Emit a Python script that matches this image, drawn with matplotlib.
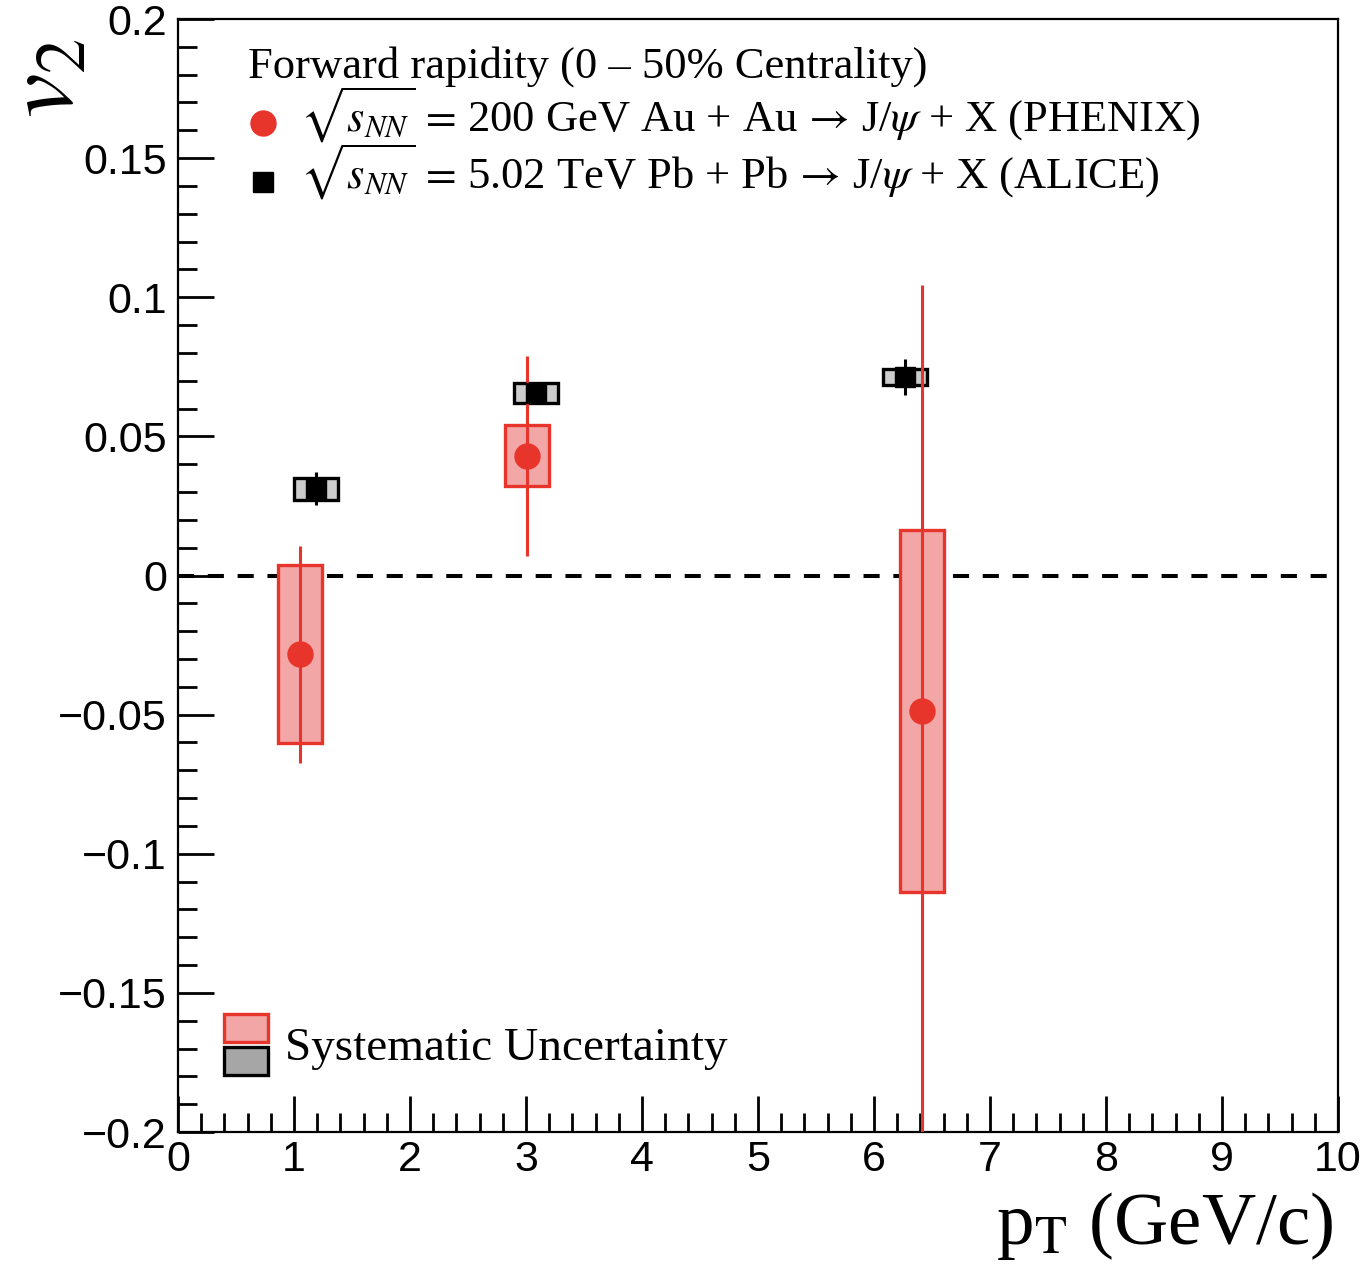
import numpy as np
import matplotlib
matplotlib.use('Agg')
import matplotlib.pyplot as plt
from matplotlib.patches import Rectangle
from matplotlib.lines import Line2D

plt.rcParams['mathtext.fontset'] = 'stix'
plt.rcParams['font.family'] = ['Liberation Sans', 'DejaVu Sans']

# PHENIX, 200 GeV Au+Au
pt_phenix = np.array([1.05, 3.01, 6.41])
v2_phenix = np.array([-0.0283, 0.043, -0.0486])
stat_phenix = np.array([0.039, 0.036, 0.153])
sys_phenix = np.array([0.032, 0.011, 0.065])

# ALICE, 5.02 TeV Pb+Pb
pt_alice = np.array([1.19, 3.09, 6.27])
v2_alice = np.array([0.0312, 0.0656, 0.0713])
stat_alice = np.array([0.006, 0.004, 0.0066])
sys_alice = np.array([0.004, 0.0037, 0.0028])

box_hw = 0.19
red = '#e8352b'
red_fill = '#f2a6a6'

fig = plt.figure(figsize=(13.61, 12.68), dpi=100)
ax = fig.add_axes([178/1361, 1-1132/1268, 1160/1361, 1113/1268])

ax.plot([0, 10], [0, 0], color='black', lw=2.9, dashes=(4, 3.4), zorder=1)

# systematic boxes
for x, y, s in zip(pt_phenix, v2_phenix, sys_phenix):
    ax.add_patch(Rectangle((x-box_hw, y-s), 2*box_hw, 2*s, facecolor=red_fill,
                           edgecolor=red, lw=2.4, zorder=2))
for x, y, s in zip(pt_alice, v2_alice, sys_alice):
    ax.add_patch(Rectangle((x-box_hw, y-s), 2*box_hw, 2*s, facecolor='#cccccc',
                           edgecolor='black', lw=2.4, zorder=2))

ax.errorbar(pt_phenix, v2_phenix, yerr=stat_phenix, fmt='o', color=red, ms=18,
            elinewidth=2.2, capsize=0, zorder=3)
ax.errorbar(pt_alice, v2_alice, yerr=stat_alice, fmt='s', color='black', ms=14,
            elinewidth=2.2, capsize=0, zorder=3)

ax.set_xlim(0, 10)
ax.set_ylim(-0.2, 0.2)
ax.set_xticks(np.arange(0, 11, 1))
ax.set_xticks(np.arange(0, 10.01, 0.2), minor=True)
ax.set_yticks(np.arange(-0.2, 0.201, 0.05))
ax.set_yticks(np.arange(-0.2, 0.201, 0.01), minor=True)
ax.set_yticklabels(['\u22120.2', '\u22120.15', '\u22120.1', '\u22120.05', '0',
                    '0.05', '0.1', '0.15', '0.2'])
ax.set_xticklabels([str(i) for i in range(11)])
ax.tick_params(which='both', direction='in', top=False, right=False, width=2,
               labelsize=31)
ax.tick_params(which='major', length=26)
ax.tick_params(which='minor', length=13.5)
ax.tick_params(axis='y', pad=8)
ax.tick_params(axis='x', pad=6)
for sp in ax.spines.values():
    sp.set_linewidth(1.6)

# legend (top)
def ax_xy(px, py):
    return (px-178)/1160, (1132-py)/1112

serif = ['Liberation Serif', 'DejaVu Serif']
ax.text(*ax_xy(248, 78), 'Forward rapidity (0 \u2013 50% Centrality)',
        transform=ax.transAxes, fontsize=32, family=serif, va='baseline')
ax.add_line(Line2D([ax_xy(263, 124)[0]], [ax_xy(263, 124)[1]], marker='o',
                   color=red, ms=18, transform=ax.transAxes))
ax.add_line(Line2D([ax_xy(263, 183)[0]], [ax_xy(263, 183)[1]], marker='s',
                   color='black', ms=14, transform=ax.transAxes))
ax.text(*ax_xy(300, 133),
        r'$\sqrt{s_{NN}}\,=\,$200 GeV Au + Au$\,\rightarrow\,$J/$\psi$ + X (PHENIX)',
        transform=ax.transAxes, fontsize=32, family=serif, va='baseline')
ax.text(*ax_xy(300, 189),
        r'$\sqrt{s_{NN}}\,=\,$5.02 TeV Pb + Pb$\,\rightarrow\,$J/$\psi$ + X (ALICE)',
        transform=ax.transAxes, fontsize=32, family=serif, va='baseline')

# legend (bottom)
x0, y0 = ax_xy(224, 1042)
x1, y1 = ax_xy(268, 1014)
ax.add_patch(Rectangle((x0, y0), x1-x0, y1-y0, facecolor=red_fill, edgecolor=red,
                       lw=2.4, transform=ax.transAxes))
x0, y0 = ax_xy(224, 1075)
x1, y1 = ax_xy(268, 1047)
ax.add_patch(Rectangle((x0, y0), x1-x0, y1-y0, facecolor='#a6a6a6',
                       edgecolor='black', lw=2.4, transform=ax.transAxes))
ax.text(*ax_xy(285, 1060), 'Systematic Uncertainty', transform=ax.transAxes,
        fontsize=34, family=serif, va='baseline')

fig.text(0, 1-38/1268, r'$v_2$', rotation=90, ha='left', va='top',
         fontsize=72)
fig.text(1333/1361, 1-1262/1268, r'p$_{\mathrm{T}}$ (GeV/c)', ha='right',
         va='bottom', fontsize=54, family=serif)

fig.savefig('out.png', dpi=100)
